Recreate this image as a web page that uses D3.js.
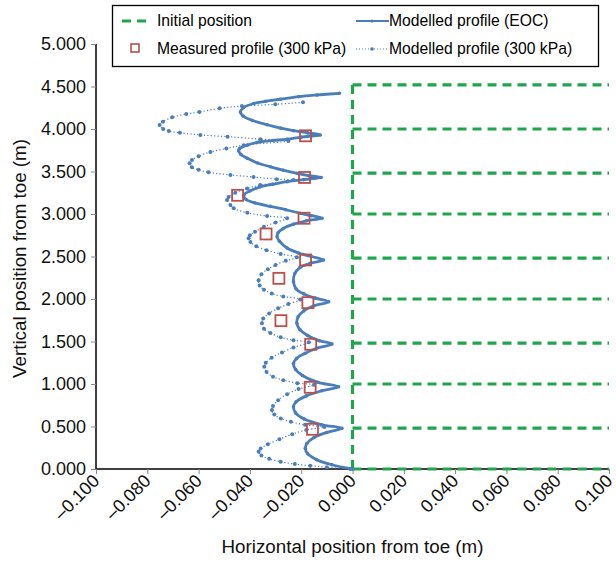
<!DOCTYPE html>
<html>
<head>
<meta charset="utf-8">
<script src="https://cdn.jsdelivr.net/npm/d3@7"></script>
<style>
  body { margin: 0; background: #fff; }
  svg { font-family: "Liberation Sans", Arial, sans-serif; }
</style>
</head>
<body>
<div class="chart"></div>
<script>
// ---- data (x in m, y in m) ----
var xTicks = [-0.1, -0.08, -0.06, -0.04, -0.02, 0, 0.02, 0.04, 0.06, 0.08, 0.1];
var yTicks = [0, 0.5, 1, 1.5, 2, 2.5, 3, 3.5, 4, 4.5, 5];

// initial position: wall at x=0 with layer lines
var initialX = [0, 0.1];
var initialLevels = [0, 0.48, 1.0, 1.48, 2.0, 2.48, 3.0, 3.48, 4.0, 4.52];

var eocX = [-0.0051, -0.0139, -0.0210, -0.0281, -0.0340, -0.0385, -0.0425, -0.0437, -0.0425, -0.0390, -0.0333, -0.0280, -0.0230, -0.0175, -0.0126,
  -0.0200, -0.0255, -0.0310, -0.0359, -0.0410, -0.0440, -0.0444, -0.0435, -0.0410, -0.0370, -0.0320, -0.0270, -0.0216, -0.0170, -0.0122,
  -0.0190, -0.0255, -0.0310, -0.0360, -0.0400, -0.0424, -0.0415, -0.0380, -0.0320, -0.0260, -0.0204, -0.0160, -0.0119,
  -0.0180, -0.0230, -0.0270, -0.0290, -0.0294, -0.0285, -0.0255, -0.0210, -0.0160, -0.0113,
  -0.0165, -0.0205, -0.0225, -0.0230, -0.0220, -0.0190, -0.0145, -0.0093,
  -0.0150, -0.0190, -0.0212, -0.0217, -0.0205, -0.0175, -0.0130, -0.0080,
  -0.0140, -0.0185, -0.0218, -0.0230, -0.0222, -0.0195, -0.0135, -0.0054,
  -0.0120, -0.0180, -0.0220, -0.0230, -0.0222, -0.0190, -0.0120, -0.0041,
  -0.0100, -0.0150, -0.0178, -0.0184, -0.0175, -0.0140, -0.0080, 0.0000];
var eocY = [4.42, 4.40, 4.38, 4.35, 4.325, 4.30, 4.25, 4.20, 4.15, 4.10, 4.05, 4.01, 3.98, 3.955, 3.93,
  3.905, 3.88, 3.865, 3.85, 3.81, 3.77, 3.745, 3.70, 3.655, 3.60, 3.556, 3.515, 3.478, 3.45, 3.43,
  3.405, 3.38, 3.35, 3.32, 3.27, 3.22, 3.17, 3.13, 3.09, 3.05, 3.008, 2.98, 2.95,
  2.92, 2.88, 2.83, 2.78, 2.733, 2.68, 2.60, 2.54, 2.50, 2.459,
  2.42, 2.37, 2.30, 2.204, 2.12, 2.06, 2.01, 1.968,
  1.92, 1.86, 1.79, 1.714, 1.64, 1.57, 1.51, 1.47,
  1.42, 1.36, 1.30, 1.244, 1.17, 1.10, 1.02, 0.968,
  0.92, 0.86, 0.79, 0.733, 0.66, 0.59, 0.52, 0.479,
  0.43, 0.37, 0.30, 0.243, 0.18, 0.11, 0.05, 0.0];

var kpaX = [-0.0193, -0.0301, -0.0431, -0.0518, -0.0597, -0.0648, -0.0703, -0.0739, -0.0752, -0.0738, -0.0716, -0.0673, -0.0593, -0.0487, -0.0359, -0.0250,
  -0.0424, -0.0492, -0.0554, -0.0600, -0.0626, -0.0635, -0.0626, -0.0600, -0.0561, -0.0476, -0.0386, -0.0295, -0.0230,
  -0.0360, -0.0411, -0.0457, -0.0483, -0.0489, -0.0476, -0.0463, -0.0410, -0.0333, -0.0255,
  -0.0300, -0.0345, -0.0380, -0.0400, -0.0405, -0.0398, -0.0375, -0.0335, -0.0280, -0.0217,
  -0.0260, -0.0300, -0.0330, -0.0355, -0.0366, -0.0362, -0.0345, -0.0315, -0.0270, -0.0204,
  -0.0250, -0.0290, -0.0325, -0.0348, -0.0353, -0.0345, -0.0320, -0.0280, -0.0230, -0.0170,
  -0.0230, -0.0275, -0.0315, -0.0338, -0.0344, -0.0335, -0.0310, -0.0270, -0.0215, -0.0150,
  -0.0210, -0.0255, -0.0290, -0.0310, -0.0314, -0.0305, -0.0280, -0.0240, -0.0185, -0.0110,
  -0.0180, -0.0235, -0.0285, -0.0330, -0.0358, -0.0366, -0.0355, -0.0325, -0.0280, -0.0225, -0.0165, -0.0100, -0.0009];
var kpaY = [4.314, 4.29, 4.27, 4.243, 4.20, 4.176, 4.137, 4.086, 4.047, 4.00, 3.976, 3.956, 3.93, 3.91, 3.88, 3.86,
  3.81, 3.77, 3.73, 3.68, 3.635, 3.596, 3.55, 3.52, 3.49, 3.46, 3.435, 3.41, 3.40,
  3.34, 3.30, 3.25, 3.20, 3.165, 3.106, 3.067, 3.015, 2.976, 2.95,
  2.90, 2.85, 2.79, 2.75, 2.714, 2.67, 2.62, 2.575, 2.53, 2.49,
  2.45, 2.40, 2.35, 2.29, 2.22, 2.16, 2.11, 2.065, 2.03, 1.995,
  1.94, 1.89, 1.83, 1.77, 1.714, 1.65, 1.60, 1.55, 1.515, 1.49,
  1.43, 1.37, 1.31, 1.25, 1.204, 1.14, 1.085, 1.045, 1.01, 0.99,
  0.94, 0.88, 0.81, 0.74, 0.694, 0.64, 0.595, 0.555, 0.52, 0.495,
  0.46, 0.41, 0.35, 0.29, 0.24, 0.204, 0.16, 0.12, 0.085, 0.058, 0.038, 0.02, 0.0];

var measX = [-0.0183, -0.0187, -0.0448, -0.0189, -0.0337, -0.0183, -0.0287, -0.0174, -0.0279, -0.0163, -0.0165, -0.0156];
var measY = [3.92, 3.43, 3.22, 2.95, 2.765, 2.459, 2.243, 1.957, 1.745, 1.467, 0.961, 0.467];

// ---- layout ----
var margin = {top: 44, right: 7, bottom: 92, left: 96},
    width = 616 - margin.left - margin.right,
    height = 561 - margin.top - margin.bottom;

var green = "#1fa64d", blue = "#4a7ebb", red = "#b9504c";

var x = d3.scaleLinear().domain([-0.1, 0.1]).range([0, width]);
var y = d3.scaleLinear().domain([0, 5]).range([height, 0]);

var svg = d3.select(".chart").append("svg")
    .attr("width", 616).attr("height", 561);
var g = svg.append("g")
    .attr("transform", "translate(" + margin.left + "," + margin.top + ")");

function fmt(v) {
    var s = d3.format(".3f")(Math.abs(v));
    return (v < -1e-9 ? "\u2013" : "") + s;
}

// axes
var yAxis = d3.axisLeft(y).tickValues(yTicks).tickSize(5).tickPadding(5).tickFormat(fmt);
var xAxis = d3.axisBottom(x).tickValues(xTicks).tickSize(5).tickFormat(fmt);

var gy = g.append("g").attr("class", "y axis").call(yAxis);
gy.select(".domain").attr("stroke", "#000").attr("stroke-width", 1.5).attr("d", "M0," + height + "V0");
gy.selectAll(".tick line").attr("stroke", "#888");
gy.selectAll("text").style("font-size", "18px").attr("fill", "#111");

var gx = g.append("g").attr("class", "x axis")
    .attr("transform", "translate(0," + height + ")")
    .call(xAxis);
gx.select(".domain").attr("stroke", "#000").attr("stroke-width", 1.5).attr("d", "M0,0H" + width);
gx.selectAll(".tick line").attr("stroke", "#888");
gx.selectAll("text")
    .style("font-size", "18px").attr("fill", "#111")
    .attr("dy", null).attr("y", 0)
    .attr("transform", "translate(4,13) rotate(-45)")
    .style("text-anchor", "end");

// initial position (green dashes)
var dash = "9,6";
g.append("line")
    .attr("x1", x(initialX[0])).attr("x2", x(initialX[0]))
    .attr("y1", y(0)).attr("y2", y(d3.max(initialLevels)))
    .attr("stroke", green).attr("stroke-width", 3.2).attr("stroke-dasharray", dash);
g.selectAll(".layer").data(initialLevels).enter().append("line")
    .attr("class", "layer")
    .attr("x1", x(initialX[0])).attr("x2", x(initialX[1]))
    .attr("y1", function(d) { return y(d); }).attr("y2", function(d) { return y(d); })
    .attr("stroke", green).attr("stroke-width", 3.2).attr("stroke-dasharray", dash);

var line = d3.line()
    .x(function(d) { return x(d[0]); })
    .y(function(d) { return y(d[1]); })
    .curve(d3.curveCatmullRom.alpha(0.5));

var kpa = kpaX.map(function(v, i) { return [v, kpaY[i]]; });
var eoc = eocX.map(function(v, i) { return [v, eocY[i]]; });
var meas = measX.map(function(v, i) { return [v, measY[i]]; });

// modelled profile (300 kPa) - dotted with markers
g.append("path").attr("d", line(kpa))
    .attr("fill", "none").attr("stroke", blue).attr("stroke-width", 1.2)
    .attr("stroke-dasharray", "1.2,2.2");
g.selectAll(".kdot").data(kpa).enter().append("circle")
    .attr("class", "kdot")
    .attr("cx", function(d) { return x(d[0]); })
    .attr("cy", function(d) { return y(d[1]); })
    .attr("r", 2).attr("fill", blue);

// modelled profile (EOC) - solid
g.append("path").attr("d", line(eoc))
    .attr("fill", "none").attr("stroke", blue).attr("stroke-width", 2.8);
g.selectAll(".edot").data(eoc).enter().append("circle")
    .attr("class", "edot")
    .attr("cx", function(d) { return x(d[0]); })
    .attr("cy", function(d) { return y(d[1]); })
    .attr("r", 1.8).attr("fill", blue);

// measured profile squares
g.selectAll(".meas").data(meas).enter().append("rect")
    .attr("class", "meas")
    .attr("x", function(d) { return x(d[0]) - 5.5; })
    .attr("y", function(d) { return y(d[1]) - 5.5; })
    .attr("width", 11).attr("height", 11)
    .attr("fill", "none").attr("stroke", red).attr("stroke-width", 1.8);

// axis titles
svg.append("text")
    .attr("transform", "translate(26," + (margin.top + height / 2 + 2) + ") rotate(-90)")
    .attr("text-anchor", "middle").style("font-size", "18.8px").attr("fill", "#111")
    .text("Vertical position from toe (m)");
svg.append("text")
    .attr("x", margin.left + width / 2).attr("y", 553)
    .attr("text-anchor", "middle").style("font-size", "18.8px").attr("fill", "#111")
    .text("Horizontal position from toe (m)");

// legend
var lg = svg.append("g");
lg.append("rect").attr("x", 112.5).attr("y", 5.5).attr("width", 486).attr("height", 61)
    .attr("fill", "#fff").attr("stroke", "#000").attr("stroke-width", 1.3);
var fs = "15.7px";
lg.append("line").attr("x1", 122).attr("x2", 152).attr("y1", 21).attr("y2", 21)
    .attr("stroke", green).attr("stroke-width", 3.2).attr("stroke-dasharray", "9,6");
lg.append("text").attr("x", 157).attr("y", 26).style("font-size", fs).text("Initial position");
lg.append("rect").attr("x", 131).attr("y", 44).attr("width", 8).attr("height", 8)
    .attr("fill", "none").attr("stroke", red).attr("stroke-width", 1.6);
lg.append("text").attr("x", 157).attr("y", 54).style("font-size", fs).text("Measured profile (300 kPa)");
lg.append("line").attr("x1", 356).attr("x2", 389).attr("y1", 21).attr("y2", 21)
    .attr("stroke", blue).attr("stroke-width", 2.2);
lg.append("circle").attr("cx", 372).attr("cy", 21).attr("r", 1.6).attr("fill", blue);
lg.append("text").attr("x", 389).attr("y", 26).style("font-size", fs).text("Modelled profile (EOC)");
lg.append("line").attr("x1", 356).attr("x2", 389).attr("y1", 49).attr("y2", 49)
    .attr("stroke", blue).attr("stroke-width", 1).attr("stroke-dasharray", "1,2");
lg.append("circle").attr("cx", 372).attr("cy", 49).attr("r", 1.8).attr("fill", blue);
lg.append("text").attr("x", 389).attr("y", 54).style("font-size", fs).text("Modelled profile (300 kPa)");
</script>
</body>
</html>
